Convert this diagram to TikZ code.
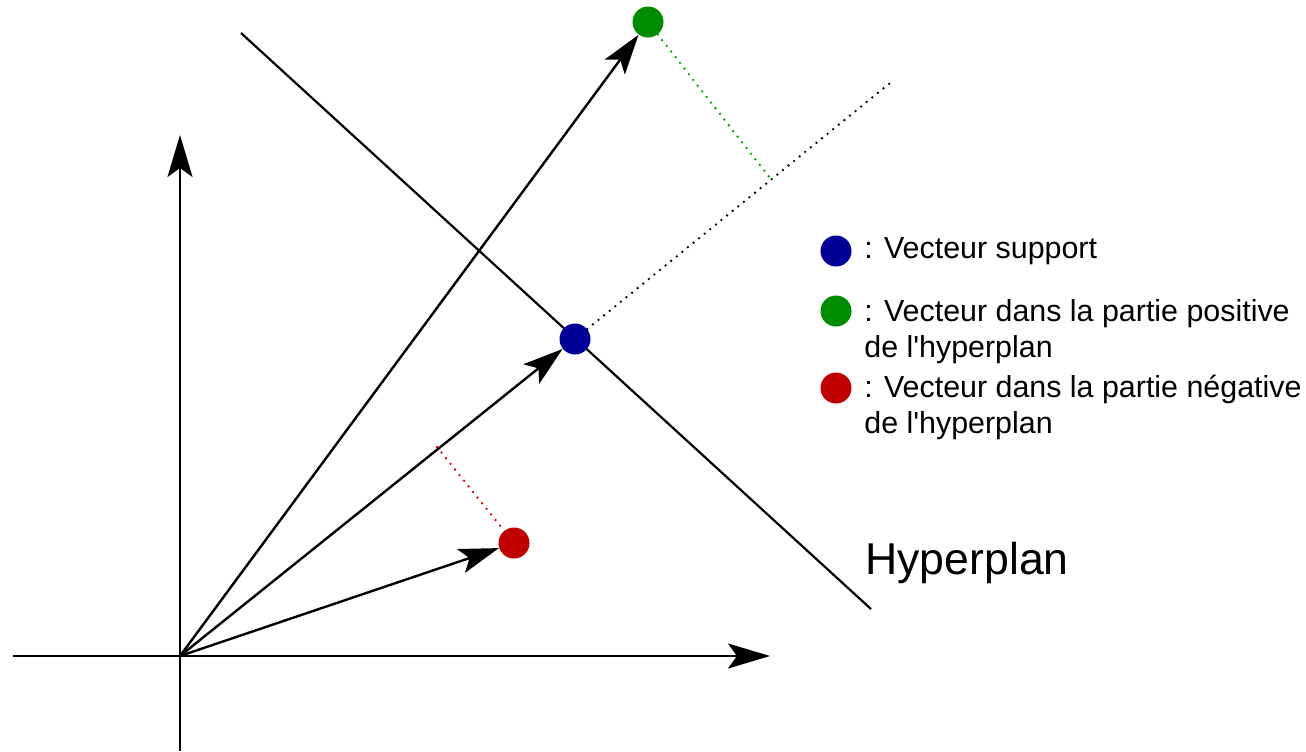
\documentclass[tikz,border=0pt]{standalone}
\usepackage{fontspec}
\setmainfont{Liberation Sans}
\usetikzlibrary{arrows.meta,positioning}
\definecolor{ink}{HTML}{000000}
\definecolor{supblue}{HTML}{000099}
\definecolor{posgreen}{HTML}{008C00}
\definecolor{negred}{HTML}{C00000}
\definecolor{posdot}{HTML}{00A000}
\definecolor{negdot}{HTML}{D40000}
\tikzset{
  axisarr/.style={-{Stealth[length=21pt,width=12.5pt,inset=4.5pt]},
                  line width=1.2pt,draw=ink},
  vecarr/.style={-{Stealth[length=20pt,width=12.5pt,inset=4.5pt]},
                 line width=1.2pt,draw=ink},
  hypline/.style={line width=1.1pt,draw=ink},
  projline/.style={line width=1.3pt,dash pattern=on 0pt off 3.6pt,
                   line cap=round},
  vecdot/.style={circle,inner sep=0pt,minimum size=15.5pt,draw=none},
  legtext/.style={font=\fontsize{15.2}{17.8}\selectfont,inner sep=0pt,
                  align=left,anchor=base west}
}
\begin{document}
\begin{tikzpicture}[x=0.5pt,y=-0.5pt]
    \useasboundingbox (0,0) rectangle (1306,751);
    \coordinate (O) at (180,656);
    \coordinate (xl) at (13,656);
    \coordinate (xr) at (770,656);
    \coordinate (yb) at (180,751);
    \coordinate (yt) at (180,135);
    \coordinate (h1) at (241,33);
    \coordinate (h2) at (871,609);
    \coordinate (far) at (890,83);
    \coordinate (gfoot) at (770,178);
    \coordinate (rfoot) at (437,447);
    \draw[axisarr] (xl) -- (xr);
    \draw[axisarr] (yb) -- (yt);
    \draw[hypline] (h1) -- (h2);
    \node[vecdot,fill=supblue] (sup) at (575,339) {};
    \node[vecdot,fill=posgreen] (pos) at (648,22) {};
    \node[vecdot,fill=negred] (neg) at (514,543) {};
    \draw[vecarr] (O) -- (sup);
    \draw[vecarr] (O) -- (pos);
    \draw[vecarr] (O) -- (neg);
    \draw[projline,draw=ink] (sup) -- (far);
    \draw[projline,draw=posdot] (pos) -- (gfoot);
    \draw[projline,draw=negdot] (rfoot) -- (neg);
    \node[legtext,font=\fontsize{22.3}{26}\selectfont] (hyp) at (865,574)
      {Hyperplan};
    \node[vecdot,fill=supblue] (lsup) at (836,251) {};
    \node[vecdot,fill=posgreen] (lpos) at (836,311) {};
    \node[vecdot,fill=negred] (lneg) at (836,388) {};
    \node[legtext] (tsup) at (864,258) {: Vecteur support};
    \node[legtext] (tpos) at (864,357)
      {: Vecteur dans la partie positive\\de l\textquotesingle hyperplan};
    \node[legtext] (tneg) at (864,433)
      {: Vecteur dans la partie négative\\de l\textquotesingle hyperplan};
  \end{tikzpicture}
\end{document}
